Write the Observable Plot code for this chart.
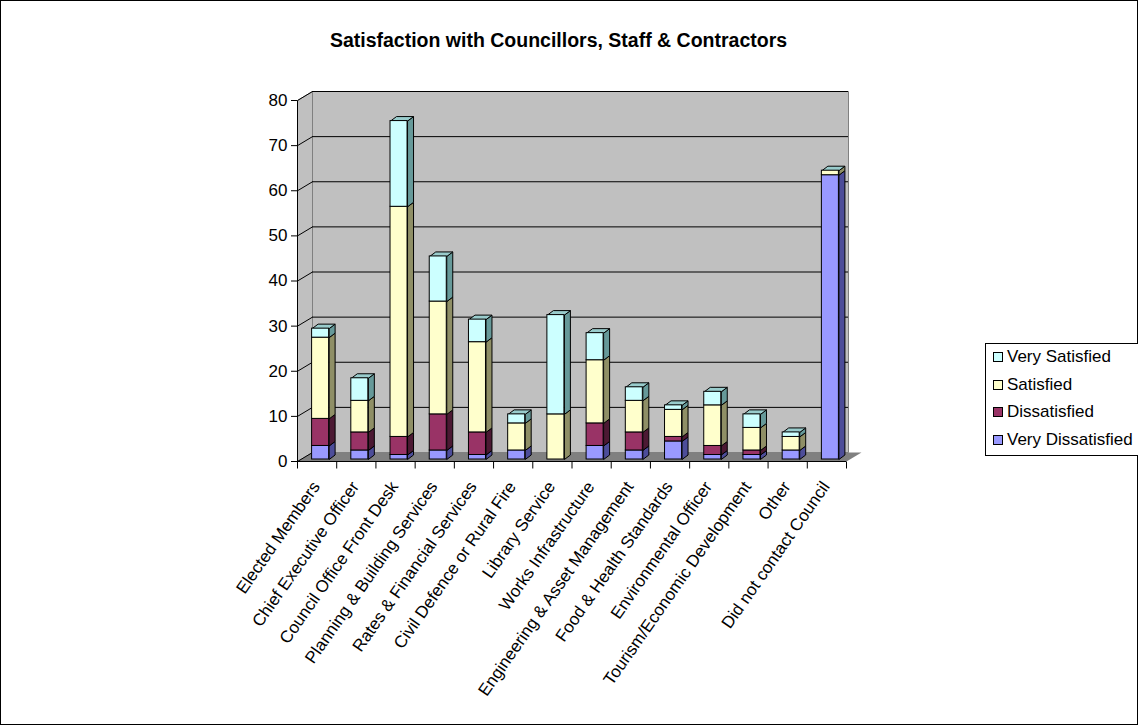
<!DOCTYPE html>
<html><head><meta charset="utf-8">
<script src="https://cdn.jsdelivr.net/npm/d3@7"></script>
<script src="https://cdn.jsdelivr.net/npm/@observablehq/plot@0.6"></script>
<style>
body{margin:0;background:#fff;font-family:'Liberation Sans',Arial,sans-serif;}
#wrap{position:relative;width:1138px;height:725px;box-shadow:inset 0 0 0 1px #000;overflow:hidden;background:#fff;}
#title{position:absolute;left:0;width:1117px;top:29px;text-align:center;font-weight:bold;font-size:19.5px;line-height:22px;color:#000;}
#chart{position:absolute;left:0;top:70px;}
#legend{position:absolute;left:985px;top:343px;width:160px;height:113px;border:1px solid #000;box-sizing:border-box;background:#fff;}
.item{position:absolute;left:7px;font-size:17px;line-height:20px;white-space:nowrap;color:#000;}
.sw{display:inline-block;width:8px;height:8px;border:1px solid #000;margin-right:4px;vertical-align:middle;position:relative;top:-1px;}
</style></head><body>
<div id="wrap"><div id="title">Satisfaction with Councillors, Staff &amp; Contractors</div><div id="chart"></div><div id="legend"></div></div>
<script>
// ---- data ----
const categories = ["Elected Members","Chief Executive Officer","Council Office Front Desk","Planning & Building Services","Rates & Financial Services","Civil Defence or Rural Fire","Library Service","Works Infrastructure","Engineering & Asset Management","Food & Health Standards","Environmental Officer","Tourism/Economic Development","Other","Did not contact Council"];
const seriesNames = ["Very Dissatisfied","Dissatisfied","Satisfied","Very Satisfied"];
const veryDissatisfied = [3,2,1,2,1,2,0,3,2,4,1,1,2,63];
const dissatisfied     = [6,4,4,8,5,0,0,5,4,1,2,1,0,0];
const satisfied        = [18,7,51,25,20,6,10,14,7,6,9,5,3,1];
const verySatisfied    = [2,5,19,10,5,2,22,6,3,1,3,3,1,0];
const yTicks = [0,10,20,30,40,50,60,70,80];
const frontColors = ["#9999FF","#993366","#FFFFCC","#CCFFFF"];
const sideColors  = ["#4D4D99","#4C1933","#8F8F66","#669999"];
const topColor = "#99CCCC";

const seriesValues = [veryDissatisfied, dissatisfied, satisfied, verySatisfied];
const table = [];
categories.forEach((c, i) => {
  let acc = 0;
  seriesValues.forEach((vals, s) => {
    const v = vals[i];
    if (v > 0) table.push({cat: c, series: seriesNames[s], y1: acc, y2: acc + v});
    acc += v;
  });
});
const totals = categories.map((c, i) => ({cat: c, total: seriesValues.reduce((a, v) => a + v[i], 0)}));

// ---- layout ----
const W = 900, H = 655, mL = 297, mR = 54, mT = 30, mB = 264;
const n = categories.length;
const pIn = 0.566, pOut = pIn / 2;
const step = (W - mL - mR) / (n - pIn + 2 * pOut);
const bw = step * (1 - pIn);
const half = step / 2;
const wx = 15, wy = -9;       // wall depth
const bdx = 3.5, bdy = -2;    // bar offset
const fx = 6, fy = -4.5;      // bar face depth
const c0 = categories[0], cN = categories[n - 1];

const shape = (draw) => (ctx) => {
  let pts = [];
  return {
    areaStart() {}, areaEnd() {},
    lineStart() { pts = []; },
    point(x, y) { pts.push([+x, +y]); },
    lineEnd() { draw(ctx, pts); }
  };
};
const poly = (ctx, ps) => { ctx.moveTo(ps[0][0], ps[0][1]); for (let k = 1; k < ps.length; k++) ctx.lineTo(ps[k][0], ps[k][1]); ctx.closePath(); };

const marks = [
  // back wall
  Plot.link([0], {x1: () => c0, x2: () => cN, y1: () => 0, y2: () => 80, fill: "#C0C0C0", stroke: "#808080",
    curve: shape((ctx, p) => poly(ctx, [[p[0][0] - half + wx, p[0][1] + wy], [p[1][0] + half + 2, p[0][1] + wy], [p[1][0] + half + 2, p[1][1] + wy], [p[0][0] - half + wx, p[1][1] + wy]]))}),
  // left wall
  Plot.link([0], {x1: () => c0, x2: () => c0, y1: () => 0, y2: () => 80, fill: "#C0C0C0", stroke: "#808080",
    curve: shape((ctx, p) => poly(ctx, [[p[0][0] - half, p[0][1]], [p[0][0] - half, p[1][1]], [p[0][0] - half + wx, p[1][1] + wy], [p[0][0] - half + wx, p[0][1] + wy]]))}),
  // floor
  Plot.link([0], {x1: () => c0, x2: () => cN, y1: () => 0, y2: () => 0, fill: "#808080", stroke: "none",
    curve: shape((ctx, p) => poly(ctx, [[p[0][0] - half, p[0][1]], [p[1][0] + half, p[0][1]], [p[1][0] + half + wx, p[0][1] + wy], [p[0][0] - half + wx, p[0][1] + wy]]))}),
  // gridlines on back wall
  Plot.ruleY(yTicks.filter(t => t > 0), {dx: wx, dy: wy, insetRight: 13, stroke: "#000", strokeWidth: 1}),
  // diagonals on left wall
  Plot.link(yTicks, {x1: () => c0, x2: () => c0, y1: d => d, y2: d => d, stroke: "#000",
    curve: shape((ctx, p) => { ctx.moveTo(p[0][0] - half, p[0][1]); ctx.lineTo(p[0][0] - half + wx, p[0][1] + wy); })}),
  // y axis line
  Plot.link([0], {x1: () => c0, x2: () => c0, y1: () => 0, y2: () => 80, stroke: "#000",
    curve: shape((ctx, p) => { ctx.moveTo(p[0][0] - half, p[0][1]); ctx.lineTo(p[0][0] - half, p[1][1]); })}),
  // x axis line
  Plot.ruleY([0], {stroke: "#000"}),
  // category boundary ticks
  Plot.link(categories, {x1: d => d, x2: d => d, y1: () => 0, y2: () => 0, stroke: "#000",
    curve: shape((ctx, p) => { ctx.moveTo(p[0][0] - half, p[0][1]); ctx.lineTo(p[0][0] - half, p[0][1] + 7); })}),
  Plot.link([cN], {x1: d => d, x2: d => d, y1: () => 0, y2: () => 0, stroke: "#000",
    curve: shape((ctx, p) => { ctx.moveTo(p[0][0] + half, p[0][1]); ctx.lineTo(p[0][0] + half, p[0][1] + 7); })})
];

// bar side faces
seriesNames.forEach((s, k) => {
  marks.push(Plot.link(table.filter(r => r.series === s), {x1: "cat", x2: "cat", y1: "y1", y2: "y2", dx: bdx, dy: bdy,
    fill: sideColors[k], stroke: "#000", strokeWidth: 1,
    curve: shape((ctx, p) => poly(ctx, [[p[0][0] + bw / 2, p[0][1]], [p[0][0] + bw / 2, p[1][1]], [p[0][0] + bw / 2 + fx, p[1][1] + fy], [p[0][0] + bw / 2 + fx, p[0][1] + fy]]))}));
});
// bar top faces
marks.push(Plot.link(totals.filter(d => d.total > 0), {x1: "cat", x2: "cat", y1: "total", y2: "total", dx: bdx, dy: bdy,
  fill: topColor, stroke: "#000", strokeWidth: 1,
  curve: shape((ctx, p) => poly(ctx, [[p[0][0] - bw / 2, p[0][1]], [p[0][0] + bw / 2, p[0][1]], [p[0][0] + bw / 2 + fx, p[0][1] + fy], [p[0][0] - bw / 2 + fx, p[0][1] + fy]]))}));
// bar front faces
seriesNames.forEach((s, k) => {
  marks.push(Plot.barY(table.filter(r => r.series === s), {x: "cat", y1: "y1", y2: "y2", dx: bdx, dy: bdy,
    fill: frontColors[k], stroke: "#000", strokeWidth: 1}));
});
// axes
marks.push(Plot.axisY({ticks: yTicks, tickSize: 6, tickPadding: 4, label: null, fontSize: 17}));
marks.push(Plot.axisX({tickRotate: -55, tickSize: 0, tickPadding: 22, label: null, dx: -1, fontSize: 17}));

const chart = Plot.plot({
  width: W, height: H,
  marginLeft: mL, marginRight: mR, marginTop: mT, marginBottom: mB,
  x: {type: "band", domain: categories, paddingInner: pIn, paddingOuter: pOut, round: false},
  y: {domain: [0, 80]},
  style: {fontFamily: "'Liberation Sans', Arial, sans-serif", fontSize: "17px", color: "#000", background: "transparent", overflow: "visible"},
  marks
});
document.getElementById("chart").appendChild(chart);

// legend
const legend = document.getElementById("legend");
const tops = [3, 31, 58, 86];
[3, 2, 1, 0].forEach((k, j) => {
  const it = document.createElement("div");
  it.className = "item";
  it.style.top = tops[j] + "px";
  const sw = document.createElement("span");
  sw.className = "sw";
  sw.style.background = frontColors[k];
  it.appendChild(sw);
  it.appendChild(document.createTextNode(seriesNames[k]));
  legend.appendChild(it);
});
</script>
</body></html>
